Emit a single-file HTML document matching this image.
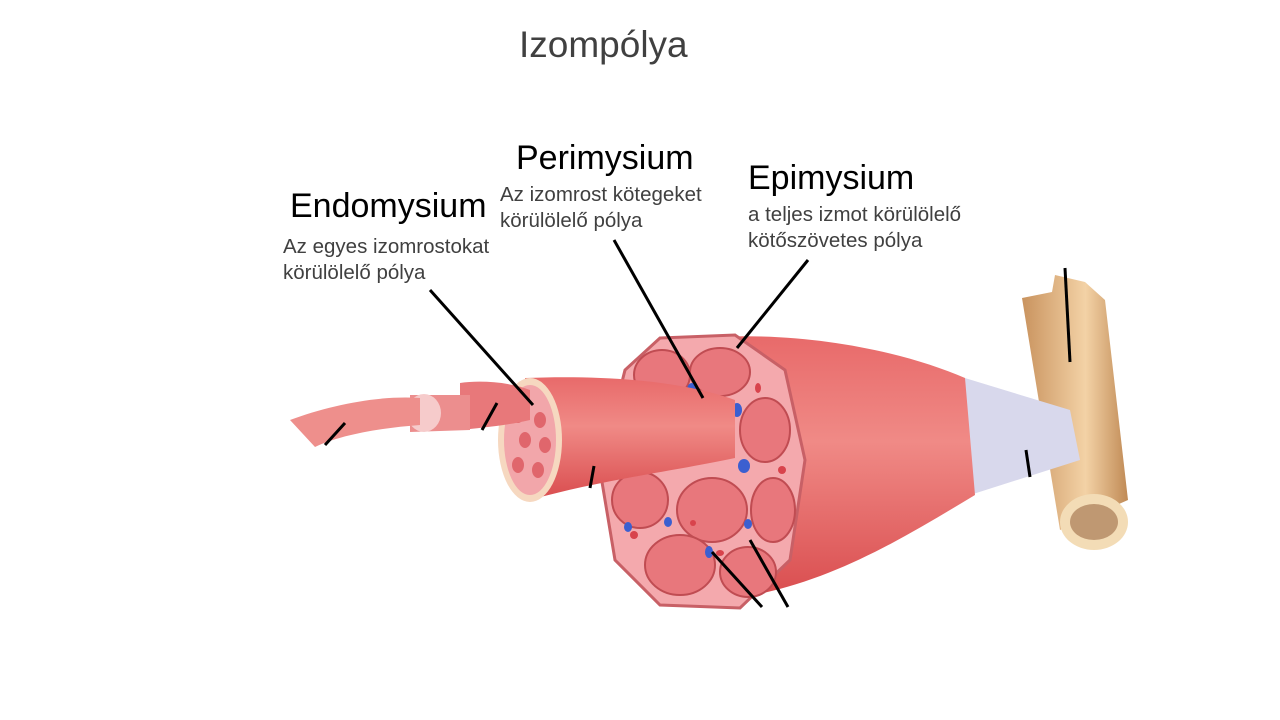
<!DOCTYPE html>
<html><head><meta charset="utf-8"><style>
html,body{margin:0;padding:0;background:#fff;}
.w{position:relative;width:1280px;height:720px;overflow:hidden;font-family:"Liberation Sans",sans-serif;}
.t{position:absolute;white-space:nowrap;}
.h{font-size:34px;color:#000;}
.s{font-size:20.5px;color:#404040;line-height:26px;}
</style></head><body><div class="w">
<svg width="1280" height="720" style="position:absolute;left:0;top:0">
<defs>
<linearGradient id="m" x1="0" y1="0" x2="0" y2="1">
<stop offset="0" stop-color="#e86a6a"/><stop offset="0.4" stop-color="#f08a86"/><stop offset="1" stop-color="#d94c4e"/></linearGradient>
<linearGradient id="b" x1="0" y1="0" x2="1" y2="0">
<stop offset="0" stop-color="#c9935e"/><stop offset="0.6" stop-color="#f3d2a6"/><stop offset="1" stop-color="#c08a55"/></linearGradient>
</defs>
<path d="M1022 298 L1052 292 L1055 275 L1085 282 L1105 300 L1128 500 L1060 530 Z" fill="url(#b)"/>
<ellipse cx="1094" cy="522" rx="34" ry="28" fill="#f3dcb6"/>
<ellipse cx="1094" cy="522" rx="24" ry="18" fill="#9c6a45" opacity=".6"/>
<path d="M955 375 L1070 410 L1080 460 L970 495 Z" fill="#d8d8ec"/>
<path d="M700 338 C800 330 900 350 965 378 L975 495 C900 540 820 590 720 600 Z" fill="url(#m)"/>
<path d="M660 338 L735 335 L785 370 L805 460 L790 560 L740 608 L660 605 L615 560 L600 470 L625 370 Z" fill="#f4a9ad" stroke="#c86066" stroke-width="3"/>
<g fill="#e8777c" stroke="#c04c52" stroke-width="2">
<ellipse cx="662" cy="375" rx="28" ry="25"/><ellipse cx="720" cy="372" rx="30" ry="24"/>
<ellipse cx="765" cy="430" rx="25" ry="32"/><ellipse cx="712" cy="510" rx="35" ry="32"/>
<ellipse cx="773" cy="510" rx="22" ry="32"/><ellipse cx="640" cy="500" rx="28" ry="28"/>
<ellipse cx="680" cy="565" rx="35" ry="30"/><ellipse cx="748" cy="572" rx="28" ry="25"/>
</g>
<g fill="#3b5fd0">
<ellipse cx="692" cy="390" rx="5" ry="7"/><ellipse cx="737" cy="410" rx="5" ry="7"/>
<ellipse cx="744" cy="466" rx="6" ry="7"/><ellipse cx="668" cy="522" rx="4" ry="5"/>
<ellipse cx="628" cy="527" rx="4" ry="5"/><ellipse cx="709" cy="552" rx="4" ry="6"/>
<ellipse cx="748" cy="524" rx="4" ry="5"/>
</g>
<g fill="#d8434c">
<ellipse cx="758" cy="388" rx="3" ry="5"/><ellipse cx="782" cy="470" rx="4" ry="4"/>
<ellipse cx="634" cy="535" rx="4" ry="4"/><ellipse cx="693" cy="523" rx="3" ry="3"/>
<ellipse cx="720" cy="553" rx="4" ry="3"/>
</g>
<path d="M525 378 C600 375 680 380 735 400 L735 458 C680 470 600 480 530 500 Z" fill="url(#m)"/>
<ellipse cx="530" cy="440" rx="32" ry="62" fill="#f6d8c0"/>
<ellipse cx="530" cy="440" rx="26" ry="55" fill="#f2a6aa"/>
<g fill="#e0666c">
<ellipse cx="518" cy="415" rx="6" ry="8"/><ellipse cx="540" cy="420" rx="6" ry="8"/>
<ellipse cx="525" cy="440" rx="6" ry="8"/><ellipse cx="545" cy="445" rx="6" ry="8"/>
<ellipse cx="518" cy="465" rx="6" ry="8"/><ellipse cx="538" cy="470" rx="6" ry="8"/>
</g>
<path d="M460 383 C480 380 510 382 530 390 L530 420 C510 425 480 428 460 430 Z" fill="#e8787a"/>
<path d="M410 395 L470 395 L470 430 L410 432 Z" fill="#ec8e8e"/>
<ellipse cx="424" cy="413" rx="17" ry="19" fill="#f6cbcb"/>
<path d="M290 420 C330 405 380 395 420 398 L420 425 C380 428 340 435 315 447 Z" fill="#ee8f8c"/>
<g stroke="#000" stroke-width="3" fill="none">
<line x1="430" y1="290" x2="533" y2="405"/>
<line x1="614" y1="240" x2="703" y2="398"/>
<line x1="808" y1="260" x2="737" y2="348"/>
<line x1="1065" y1="268" x2="1070" y2="362"/>
<line x1="345" y1="423" x2="325" y2="445"/>
<line x1="497" y1="403" x2="482" y2="430"/>
<line x1="594" y1="466" x2="590" y2="488"/>
<line x1="1026" y1="450" x2="1030" y2="477"/>
<line x1="712" y1="552" x2="762" y2="607"/>
<line x1="750" y1="540" x2="788" y2="607"/>
</g>
</svg>
<div class="t" style="left:519px;top:24px;font-size:37px;color:#404040">Izompólya</div>
<div class="t h" style="left:290px;top:187px">Endomysium</div>
<div class="t s" style="left:283px;top:234px">Az egyes izomrostokat<br>körülölelő pólya</div>
<div class="t h" style="left:516px;top:139px">Perimysium</div>
<div class="t s" style="left:500px;top:182px">Az izomrost kötegeket<br>körülölelő pólya</div>
<div class="t h" style="left:748px;top:159px">Epimysium</div>
<div class="t s" style="left:748px;top:202px">a teljes izmot körülölelő<br>kötőszövetes pólya</div>
</div></body></html>
